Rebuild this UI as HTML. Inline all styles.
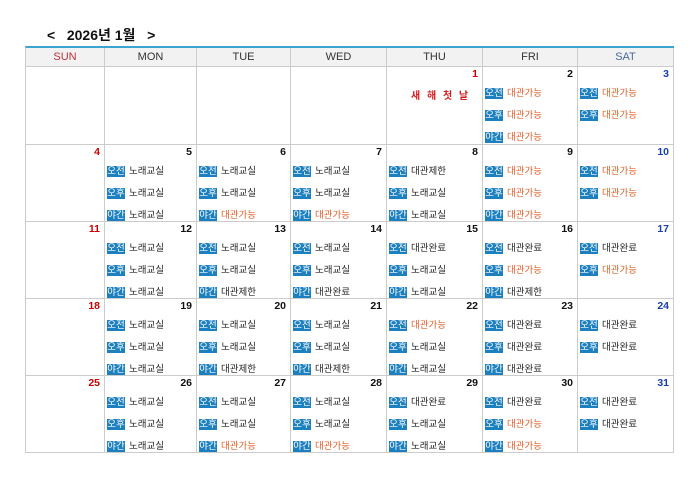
<!DOCTYPE html>
<html><head><meta charset="utf-8"><style>
body{margin:0;width:700px;height:495px;background:#fff;font-family:"Liberation Sans","Noto Sans CJK KR",sans-serif;position:relative;overflow:hidden}
.title{position:absolute;left:47px;top:25px;font-size:14px;font-weight:bold;color:#111;letter-spacing:0}
.cal{position:absolute;left:25px;top:46px;width:648px;border-top:2px solid #3aa6d0;display:grid;grid-template-columns:79px 92px 94px 96px 96px 95px 96px;grid-template-rows:19px 78px 77px 77px 77px 77px;border-left:1px solid #ccc}
.cal>div{border-right:1px solid #ccc;border-bottom:1px solid #ccc;position:relative;box-sizing:border-box}
.h{background:#f2f2f2;text-align:center;font-size:11px;line-height:18px;color:#333}
.d{position:absolute;right:4px;top:1px;font-size:10.5px;font-weight:600;color:#111}
.r{color:#c00}.b{color:#1a3fb0}
.l{position:absolute;left:2px;font-size:9.5px;color:#222;white-space:nowrap;line-height:11px}
.l i{font-style:normal;display:inline-block;background:#1b7fc0;color:#fff;font-size:9.5px;line-height:11px;padding:0;margin-right:4px;width:18px;text-align:center;vertical-align:top}
.o{color:#e0622a}
.l1{top:21px}.l2{top:43px}.l3{top:65px}
</style></head><body>
<div class="title">&lt;&nbsp;&nbsp; 2026년 1월 &nbsp;&nbsp;&gt;</div>
<div class="cal">
<div class="h" style="color:#c0303a">SUN</div><div class="h">MON</div><div class="h">TUE</div><div class="h">WED</div><div class="h">THU</div><div class="h">FRI</div><div class="h" style="color:#4a6a9a">SAT</div>

<div></div><div></div><div></div><div></div>
<div><span class="d r">1</span><span style="position:absolute;left:24px;top:20px;font-size:10px;font-weight:bold;color:#d02020;letter-spacing:2px">새 해 첫 날</span></div>
<div><span class="d">2</span><div class="l l1"><i>오전</i><span class="o">대관가능</span></div><div class="l l2"><i>오후</i><span class="o">대관가능</span></div><div class="l l3"><i>야간</i><span class="o">대관가능</span></div></div>
<div><span class="d b">3</span><div class="l l1"><i>오전</i><span class="o">대관가능</span></div><div class="l l2"><i>오후</i><span class="o">대관가능</span></div></div>

<div><span class="d r">4</span></div>
<div><span class="d">5</span><div class="l l1"><i>오전</i>노래교실</div><div class="l l2"><i>오후</i>노래교실</div><div class="l l3"><i>야간</i>노래교실</div></div>
<div><span class="d">6</span><div class="l l1"><i>오전</i>노래교실</div><div class="l l2"><i>오후</i>노래교실</div><div class="l l3"><i>야간</i><span class="o">대관가능</span></div></div>
<div><span class="d">7</span><div class="l l1"><i>오전</i>노래교실</div><div class="l l2"><i>오후</i>노래교실</div><div class="l l3"><i>야간</i><span class="o">대관가능</span></div></div>
<div><span class="d">8</span><div class="l l1"><i>오전</i>대관제한</div><div class="l l2"><i>오후</i>노래교실</div><div class="l l3"><i>야간</i>노래교실</div></div>
<div><span class="d">9</span><div class="l l1"><i>오전</i><span class="o">대관가능</span></div><div class="l l2"><i>오후</i><span class="o">대관가능</span></div><div class="l l3"><i>야간</i><span class="o">대관가능</span></div></div>
<div><span class="d b">10</span><div class="l l1"><i>오전</i><span class="o">대관가능</span></div><div class="l l2"><i>오후</i><span class="o">대관가능</span></div></div>

<div><span class="d r">11</span></div>
<div><span class="d">12</span><div class="l l1"><i>오전</i>노래교실</div><div class="l l2"><i>오후</i>노래교실</div><div class="l l3"><i>야간</i>노래교실</div></div>
<div><span class="d">13</span><div class="l l1"><i>오전</i>노래교실</div><div class="l l2"><i>오후</i>노래교실</div><div class="l l3"><i>야간</i>대관제한</div></div>
<div><span class="d">14</span><div class="l l1"><i>오전</i>노래교실</div><div class="l l2"><i>오후</i>노래교실</div><div class="l l3"><i>야간</i>대관완료</div></div>
<div><span class="d">15</span><div class="l l1"><i>오전</i>대관완료</div><div class="l l2"><i>오후</i>노래교실</div><div class="l l3"><i>야간</i>노래교실</div></div>
<div><span class="d">16</span><div class="l l1"><i>오전</i>대관완료</div><div class="l l2"><i>오후</i><span class="o">대관가능</span></div><div class="l l3"><i>야간</i>대관제한</div></div>
<div><span class="d b">17</span><div class="l l1"><i>오전</i>대관완료</div><div class="l l2"><i>오후</i><span class="o">대관가능</span></div></div>

<div><span class="d r">18</span></div>
<div><span class="d">19</span><div class="l l1"><i>오전</i>노래교실</div><div class="l l2"><i>오후</i>노래교실</div><div class="l l3"><i>야간</i>노래교실</div></div>
<div><span class="d">20</span><div class="l l1"><i>오전</i>노래교실</div><div class="l l2"><i>오후</i>노래교실</div><div class="l l3"><i>야간</i>대관제한</div></div>
<div><span class="d">21</span><div class="l l1"><i>오전</i>노래교실</div><div class="l l2"><i>오후</i>노래교실</div><div class="l l3"><i>야간</i>대관제한</div></div>
<div><span class="d">22</span><div class="l l1"><i>오전</i><span class="o">대관가능</span></div><div class="l l2"><i>오후</i>노래교실</div><div class="l l3"><i>야간</i>노래교실</div></div>
<div><span class="d">23</span><div class="l l1"><i>오전</i>대관완료</div><div class="l l2"><i>오후</i>대관완료</div><div class="l l3"><i>야간</i>대관완료</div></div>
<div><span class="d b">24</span><div class="l l1"><i>오전</i>대관완료</div><div class="l l2"><i>오후</i>대관완료</div></div>

<div><span class="d r">25</span></div>
<div><span class="d">26</span><div class="l l1"><i>오전</i>노래교실</div><div class="l l2"><i>오후</i>노래교실</div><div class="l l3"><i>야간</i>노래교실</div></div>
<div><span class="d">27</span><div class="l l1"><i>오전</i>노래교실</div><div class="l l2"><i>오후</i>노래교실</div><div class="l l3"><i>야간</i><span class="o">대관가능</span></div></div>
<div><span class="d">28</span><div class="l l1"><i>오전</i>노래교실</div><div class="l l2"><i>오후</i>노래교실</div><div class="l l3"><i>야간</i><span class="o">대관가능</span></div></div>
<div><span class="d">29</span><div class="l l1"><i>오전</i>대관완료</div><div class="l l2"><i>오후</i>노래교실</div><div class="l l3"><i>야간</i>노래교실</div></div>
<div><span class="d">30</span><div class="l l1"><i>오전</i>대관완료</div><div class="l l2"><i>오후</i><span class="o">대관가능</span></div><div class="l l3"><i>야간</i><span class="o">대관가능</span></div></div>
<div><span class="d b">31</span><div class="l l1"><i>오전</i>대관완료</div><div class="l l2"><i>오후</i>대관완료</div></div>
</div>
</body></html>
